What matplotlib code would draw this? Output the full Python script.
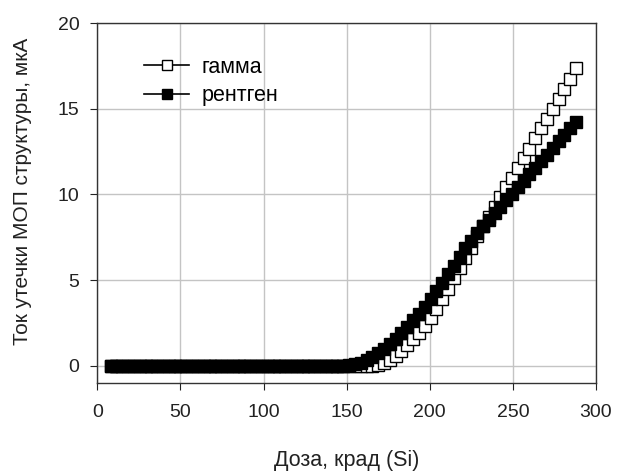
import matplotlib

matplotlib.use('Agg')
import matplotlib.pyplot as plt

plt.rcParams['font.family'] = ['Liberation Sans', 'DejaVu Sans']

# dose, krad (Si)
dose = [8, 11.5, 15, 18.5, 22, 25.5, 29, 32.5, 36, 39.5,
        43, 46.5, 50, 53.5, 57, 60.5, 64, 67.5, 71, 74.5,
        78, 81.5, 85, 88.5, 92, 95.5, 99, 102.5, 106, 109.5,
        113, 116.5, 120, 123.5, 127, 130.5, 134, 137.5, 141, 144.5,
        148, 151.5, 155, 158.5, 162, 165.5, 169, 172.5, 176, 179.5,
        183, 186.5, 190, 193.5, 197, 200.5, 204, 207.5, 211, 214.5,
        218, 221.5, 225, 228.5, 232, 235.5, 239, 242.5, 246, 249.5,
        253, 256.5, 260, 263.5, 267, 270.5, 274, 277.5, 281, 284.5,
        288]

# leakage current, uA
gamma = [0, 0, 0, 0, 0, 0, 0, 0, 0, 0,
         0, 0, 0, 0, 0, 0, 0, 0, 0, 0,
         0, 0, 0, 0, 0, 0, 0, 0, 0, 0,
         0, 0, 0, 0, 0, 0, 0, 0, 0, 0,
         0, 0, 0, 0, 0, 0, 0.03, 0.15, 0.35, 0.6,
         0.88, 1.2, 1.55, 1.93, 2.35, 2.8, 3.3, 3.9, 4.5, 5.1,
         5.7, 6.3, 6.9, 7.55, 8.15, 8.7, 9.25, 9.85, 10.42, 10.98,
         11.55, 12.1, 12.68, 13.27, 13.85, 14.42, 15.0, 15.58, 16.15, 16.75,
         17.35]

xray = [0, 0, 0, 0, 0, 0, 0, 0, 0, 0,
        0, 0, 0, 0, 0, 0, 0, 0, 0, 0,
        0, 0, 0, 0, 0, 0, 0, 0, 0, 0,
        0, 0, 0, 0, 0, 0, 0, 0, 0, 0,
        0, 0.02, 0.08, 0.18, 0.32, 0.5, 0.72, 0.98, 1.27, 1.58,
        1.92, 2.28, 2.65, 3.05, 3.45, 3.9, 4.37, 4.85, 5.35, 5.85,
        6.35, 6.85, 7.3, 7.75, 8.15, 8.53, 8.91, 9.29, 9.67, 10.05,
        10.43, 10.81, 11.19, 11.57, 11.95, 12.33, 12.71, 13.09, 13.47, 13.85,
        14.2]

fig = plt.figure(figsize=(6.24, 4.71), dpi=100)
ax = fig.add_axes([0.156, 0.187, 0.799, 0.764])

ax.plot(dose, gamma, color='black', lw=1.2, marker='s', ms=8.5,
        mfc='white', mec='black', mew=1.0, label='гамма', zorder=3)
ax.plot(dose, xray, color='black', lw=1.2, marker='s', ms=8.5,
        mfc='black', mec='black', label='рентген', zorder=4)

ax.set_xlim(0, 300)
ax.set_ylim(-1, 20)
ax.set_xticks([0, 50, 100, 150, 200, 250, 300])
ax.set_yticks([0, 5, 10, 15, 20])
ax.grid(True, color='#c4c4c4', lw=1.0)
ax.set_axisbelow(True)
for s in ax.spines.values():
    s.set_color('#333333')
    s.set_linewidth(1.0)
ax.tick_params(axis='x', direction='out', length=5, pad=10,
               labelsize=14, colors='#222222')
ax.tick_params(axis='y', direction='out', length=5, pad=8,
               labelsize=14, colors='#222222')

ax.set_xlabel('Доза, крад (Si)', fontsize=15.5, labelpad=21, color='#222222')
ax.set_ylabel('Ток утечки МОП структуры, мкА', fontsize=15, color='#222222')
ax.yaxis.set_label_coords(-0.131, 0.531)

ax.legend(loc='upper left', bbox_to_anchor=(0.055, 0.96),
          frameon=False, fontsize=15.5, handlelength=2.1, handletextpad=0.55,
          labelspacing=0.35, markerscale=0.85)

plt.savefig('out.png', dpi=100)
